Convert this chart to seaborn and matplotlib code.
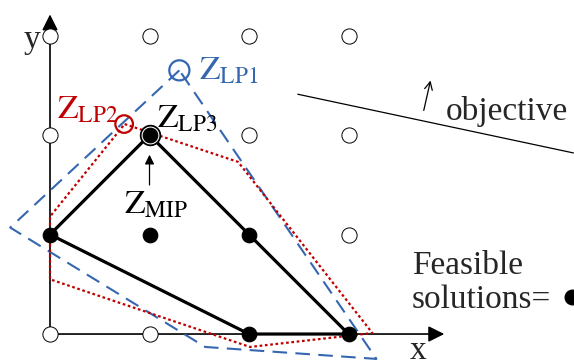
import matplotlib
matplotlib.use("Agg")
import matplotlib.pyplot as plt
import numpy as np
import pandas as pd
import seaborn as sns

# lattice points (integer grid), split into feasible / infeasible
feasible_x = [0, 1, 2, 1, 2, 3]
feasible_y = [1, 1, 1, 2, 0, 0]
hollow_x = [0, 1, 0, 0, 1, 2, 3, 2, 3, 3]
hollow_y = [0, 0, 2, 3, 3, 3, 3, 2, 2, 1]

# integer hull and the two LP relaxations
hull_x = [0, 1, 3, 2, 0]
hull_y = [1, 2, 0, 0, 1]
lp1_x = [1.30, -0.40, 1.56, 3.28, 1.30]
lp1_y = [2.65, 1.07, -0.13, -0.25, 2.65]
lp2_x = [0.75, 1.89, 3.24, 2.01, 0.0, 0.0, 0.75]
lp2_y = [2.11, 1.73, 0.01, -0.13, 0.55, 1.18, 2.11]

# optimum points of each relaxation
lp1_opt = (1.30, 2.65)
lp2_opt = (0.745, 2.11)
lp3_opt = (1.0, 2.0)

# objective direction line
obj_x = [2.49, 5.26]
obj_y = [2.41, 1.82]

BLUE = "#3567b0"
RED = "#c00000"

sns.set_style("white")
plt.rcParams["font.family"] = ["Liberation Serif", "DejaVu Serif"]
plt.rcParams["mathtext.fontset"] = "stix"

fig = plt.figure(figsize=(5.74, 3.6), dpi=100)
ax = fig.add_axes([0, 0, 1, 1])
ax.set_xlim(-0.5025, 5.266)
ax.set_ylim(-0.261, 3.357)
ax.axis("off")

# axes with arrows
ax.annotate("", xy=(3.99, 0), xytext=(0, 0),
            arrowprops=dict(arrowstyle="-|>", color="black", lw=1.2, mutation_scale=24))
ax.annotate("", xy=(0, 3.24), xytext=(0, 0),
            arrowprops=dict(arrowstyle="-|>", color="black", lw=1.2, mutation_scale=24))

sns.lineplot(x=lp1_x, y=lp1_y, sort=False, estimator=None, ax=ax, color=BLUE,
             lw=1.5, linestyle=(0, (7, 4)), zorder=3)
sns.lineplot(x=lp2_x, y=lp2_y, sort=False, estimator=None, ax=ax, color=RED,
             lw=1.6, linestyle=(0, (1.2, 1.2)), zorder=3)
sns.lineplot(x=hull_x, y=hull_y, sort=False, estimator=None, ax=ax, color="black",
             lw=2.3, zorder=4)

sns.scatterplot(x=hollow_x, y=hollow_y, ax=ax, s=120, facecolor="white",
                edgecolor="black", linewidth=0.7, zorder=5)
sns.scatterplot(x=feasible_x, y=feasible_y, ax=ax, s=110, color="black",
                edgecolor="black", zorder=6)

# optimum markers
ax.scatter(*lp3_opt, s=200, facecolor="white", edgecolor="black", lw=1.3, zorder=5)
ax.scatter(*lp2_opt, s=160, facecolor="none", edgecolor=RED, lw=1.6, zorder=7)
ax.scatter(*lp1_opt, s=210, facecolor="none", edgecolor=BLUE, lw=1.6, zorder=7)

# objective line and arrow
ax.plot(obj_x, obj_y, color="black", lw=0.9)
ax.annotate("", xy=(3.83, 2.575), xytext=(3.75, 2.22),
            arrowprops=dict(arrowstyle="->", color="black", lw=0.9, mutation_scale=14))
ax.text(3.98, 2.15, "objective", fontsize=24, va="baseline", ha="left")

# Z_MIP arrow
ax.annotate("", xy=(1.0, 1.83), xytext=(1.0, 1.47),
            arrowprops=dict(arrowstyle="-|>", color="black", lw=0.9, mutation_scale=14))

# labels
ax.text(-0.18, 2.955, "y", fontsize=24, ha="center", va="center")
ax.text(3.70, -0.165, "x", fontsize=24, ha="center", va="center")
ax.text(1.497, 2.563, r"$\mathrm{Z}_{\mathrm{LP1}}$", color=BLUE, fontsize=24, va="baseline")
ax.text(0.07, 2.171, r"$\mathrm{Z}_{\mathrm{LP2}}$", color=RED, fontsize=24, va="baseline")
ax.text(1.075, 2.08, r"$\mathrm{Z}_{\mathrm{LP3}}$", color="black", fontsize=24, va="baseline")
ax.text(0.744, 1.216, r"$\mathrm{Z}_{\mathrm{MIP}}$", color="black", fontsize=24, va="baseline")

ax.text(3.638, 0.261, "Feasible\nsolutions=", fontsize=24, va="baseline", ha="left",
        linespacing=1.15)
ax.scatter(5.25, 0.37, s=110, color="black", zorder=6, clip_on=True)

fig.savefig("out.png", dpi=100)
